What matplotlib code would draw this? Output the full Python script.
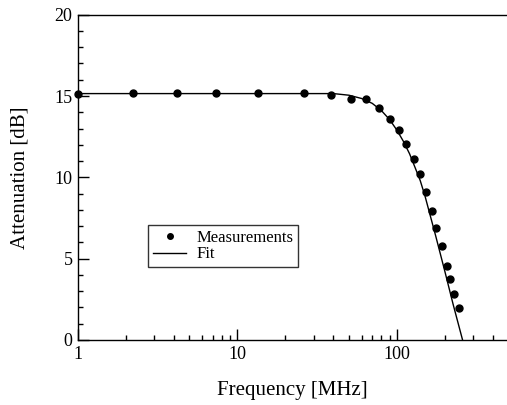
import numpy as np
import matplotlib
matplotlib.use("Agg")
import matplotlib.pyplot as plt
from matplotlib.ticker import FixedLocator, NullFormatter, FixedFormatter, MultipleLocator

plt.rcParams['font.family'] = ['Liberation Serif', 'DejaVu Serif']

freq_meas = [1.0, 2.22, 4.16, 7.33, 13.4, 26.2, 38.6, 51.5, 63.6, 77.4, 90.4,
             102.9, 113.8, 127.3, 138.8, 151.4, 165, 175.6, 191.4, 204.9,
             214, 227.7, 243.8]
atten_meas = [15.1, 15.18, 15.18, 15.18, 15.18, 15.18, 15.08, 14.83, 14.83,
              14.24, 13.58, 12.89, 12.05, 11.12, 10.2, 9.08, 7.93, 6.9, 5.8,
              4.57, 3.75, 2.83, 1.99]

# Fit curve
freq_fit = [1, 40, 50, 60, 70, 80, 90, 100, 110, 120, 130, 140, 150, 175,
            200, 225, 258]
atten_fit = [15.15, 15.15, 15.05, 14.85, 14.55, 14.1, 13.55, 12.9, 12.2,
             11.45, 10.6, 9.8, 8.85, 6.4, 4.2, 2.2, 0.0]

fig = plt.figure(figsize=(5.07, 4.05), dpi=100)
ax = fig.add_axes([0.1538, 0.1605, 0.8462, 0.8032])

ax.plot(freq_fit, atten_fit, color='black', lw=1.0, label='Fit')
ax.plot(freq_meas, atten_meas, 'o', color='black', ms=5, clip_on=False,
        label='Measurements', zorder=3)

ax.set_xscale('log')
ax.set_xlim(1, 490)
ax.set_ylim(0, 20)

ax.xaxis.set_major_locator(FixedLocator([1, 10, 100]))
ax.xaxis.set_major_formatter(FixedFormatter(['1', '10', '100']))
minors = [m * d for d in (1, 10, 100) for m in range(2, 10) if m * d < 490]
ax.xaxis.set_minor_locator(FixedLocator(minors))
ax.xaxis.set_minor_formatter(NullFormatter())
ax.yaxis.set_major_locator(MultipleLocator(5))
ax.yaxis.set_minor_locator(MultipleLocator(1))

ax.tick_params(which='both', direction='in', top=False, right=False,
               labelsize=13, width=1)
ax.tick_params(which='major', length=8, pad=4)
ax.tick_params(which='minor', length=3.6)
ax.spines['right'].set_visible(False)
for s in ('top', 'left', 'bottom'):
    ax.spines[s].set_linewidth(1)

ax.set_xlabel('Frequency [MHz]', fontsize=15, labelpad=13)
ax.set_ylabel('Attenuation [dB]', fontsize=15, labelpad=18)

h, l = ax.get_legend_handles_labels()
leg = ax.legend(h[::-1], l[::-1], loc='upper left',
                bbox_to_anchor=(0.163, 0.355), frameon=True, fancybox=False,
                edgecolor='black', fontsize=12, handlelength=2.0,
                markerscale=0.8, borderpad=0.3, labelspacing=0.05,
                handletextpad=0.6, borderaxespad=0)
leg.get_frame().set_linewidth(1)

fig.savefig('out.png', dpi=100)
